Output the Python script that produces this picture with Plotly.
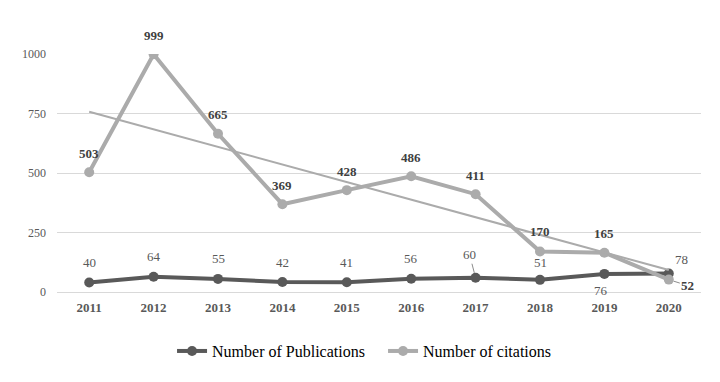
import numpy as np
import plotly.graph_objects as go

years = ["2011", "2012", "2013", "2014", "2015", "2016", "2017", "2018", "2019", "2020"]
publications = [40, 64, 55, 42, 41, 56, 60, 51, 76, 78]
citations = [503, 999, 665, 369, 428, 486, 411, 170, 165, 52]

# label offsets (px) for each point: (dx, dy, leader line?)
pub_shift = [(0, 20, 0), (0, 20, 0), (0, 20, 0), (0, 20, 0), (0, 20, 0), (0, 20, 0),
             (-6, 23, 1), (0, 17, 0), (-3, -17, 0), (13, 14, 0)]
cit_shift = [(0, 19, 0), (0, 19, 0), (0, 19, 0), (0, 19, 0), (0, 19, 0), (0, 19, 0),
             (0, 19, 0), (0, 20, 0), (0, 19, 0), (19, -6, 1)]

xi = np.arange(1, len(years) + 1)
coef = np.polyfit(xi, citations, 1)
trend = np.polyval(coef, xi)

DARK = "#595959"
LIGHT = "#ABABAB"
FONT = "Liberation Serif"

fig = go.Figure()
fig.add_trace(go.Scatter(
    x=years, y=publications, mode="lines+markers", name="Number of Publications",
    line=dict(color=DARK, width=4), marker=dict(size=10, color=DARK),
))
fig.add_trace(go.Scatter(
    x=years, y=citations, mode="lines+markers", name="Number of citations",
    line=dict(color=LIGHT, width=4), marker=dict(size=10, color=LIGHT),
))
fig.add_trace(go.Scatter(
    x=years, y=trend, mode="lines", showlegend=False, hoverinfo="skip",
    line=dict(color=LIGHT, width=2),
))


def label(i, y, text, shift, color):
    dx, dy, lead = shift
    base = dict(x=i, y=y, xref="x", yref="y", text=text,
                font=dict(family=FONT, size=13, color=color))
    if lead:
        base.update(showarrow=True, arrowhead=0, arrowwidth=1, arrowcolor="#8C8C8C",
                    ax=dx, ay=-dy, standoff=5)
    else:
        base.update(showarrow=False, xshift=dx, yshift=dy)
    return base


anns = []
for i, y in enumerate(publications):
    anns.append(label(i, y, str(y), pub_shift[i], DARK))
for i, y in enumerate(citations):
    anns.append(label(i, y, "<b>%d</b>" % y, cit_shift[i], "#404040"))

fig.update_layout(
    width=720, height=382,
    margin=dict(l=57, r=19, t=54, b=90, autoexpand=False),
    paper_bgcolor="white", plot_bgcolor="white",
    font=dict(family=FONT, color=DARK),
    xaxis=dict(type="category", range=[-0.5, 9.5], showgrid=False,
               showline=True, linecolor="#D9D9D9", linewidth=1,
               tickfont=dict(family=FONT, size=13, color=DARK, weight="bold"), ticks="",
               ticklabelstandoff=3, automargin=False),
    yaxis=dict(range=[0, 1000], tickvals=[0, 250, 500, 750, 1000],
               showgrid=True, gridcolor="#D9D9D9", gridwidth=1, zeroline=False,
               tickfont=dict(family=FONT, size=12, color=DARK), ticks="",
               ticklabelstandoff=10, automargin=False),
    legend=dict(orientation="h", xref="container", x=0.532, xanchor="center",
                yref="container", y=0.081, yanchor="middle",
                font=dict(family=FONT, size=16, color="#000000"), itemwidth=30,
                entrywidth=166),
    annotations=anns,
    showlegend=True,
)

fig.write_html("out.html", config={"displayModeBar": False},
               post_script="document.body.style.margin='0';")
